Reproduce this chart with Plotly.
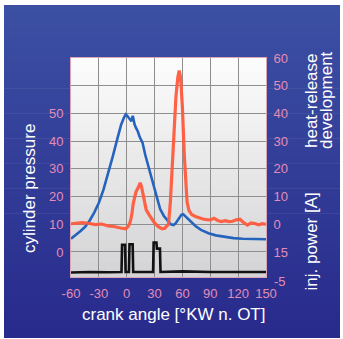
import plotly.graph_objects as go

# ---------------- data ----------------
crank_pressure = [-60, -55, -50, -45, -40, -35, -30, -25, -20, -15,
                  -10, -6, -3, -1, 1, 3, 5, 6.5, 7.5, 8.5,
                  10, 12, 14, 17, 20, 24, 28, 32, 36, 40,
                  44, 47.5, 50.5, 53, 56, 59, 61, 64, 68, 74,
                  80, 88, 96, 105, 115, 125, 135, 150]
cylinder_pressure = [4.8, 6.0, 7.5, 9.0, 11.3, 14.2, 17.8, 22.5, 28.3, 34.5,
                     41, 46, 48.5, 49.7, 49, 48, 47.2, 49.2, 47.5, 46,
                     44.8, 43.5, 41.5, 39.5, 35, 30, 24.5, 19.5, 15.5, 13,
                     11.2, 10, 9.7, 10.5, 12, 13.5, 13.6, 12.6, 11.2, 9.4,
                     8, 6.8, 6, 5.4, 5, 4.8, 4.7, 4.6]

crank_heat = [-60, -54, -48, -40, -34, -27, -20, -14, -9, -4,
              -1, 2, 4, 5.5, 7, 8.5, 10, 12, 13.5, 14.5,
              16, 17.5, 19, 21, 24, 27, 30, 34, 38, 41,
              43, 45, 47, 49, 51, 53, 55, 56.5, 58, 60,
              62, 63.5, 65, 67, 70, 74, 78, 82, 86, 90,
              94, 98, 102, 106, 110, 114, 118, 122, 126, 130,
              134, 138, 142, 146, 150]
heat_release = [0.2, 0.4, 0.6, 0.3, -0.1, 0.1, -0.6, -0.8, -1.3, -1.5,
                -1.6, -0.6, 1.2, 3.5, 7.5, 10, 11.7, 13, 14.2, 15,
                13.5, 10.5, 7.5, 5.2, 3.5, 1.8, 0.5, -0.9, -1.6, -1.4,
                -0.8, 0, 8, 22, 35, 46, 53, 55.5, 53, 42,
                25, 14, 8, 5, 3.5, 2.8, 2.2, 1.9, 1.7, 1.6,
                2.2, 1.4, 1.0, 1.3, 1.0, 1.1, 1.6, 1.8, 0.6, -0.3,
                0.5, 0.3, -0.2, 0.2, 0]

crank_inj = [-60, -40, -20, -5.6, -5.0, -1.8, -1.2, 2.4, 3.0, 6.4, 7.0,
             28.4, 29.0, 32.0, 32.5, 35.8, 36.4, 60, 90, 120, 150]
inj_power = [-17.4, -17.2, -17.3, -17.2, -7.4, -7.4, -17.2, -17.2, -7.2, -7.2, -17.2,
             -17.2, -6.6, -6.6, -8.8, -8.8, -17.2, -17.0, -17.2, -17.1, -17.2]

x_tick_vals = [-60, -30, 0, 30, 60, 90, 120, 150]
x_tick_text = ["-60", "-30", "0", "30", "60", "90", "120", "150"]
left_tick_vals = [0, 10, 20, 30, 40, 50, 60, 70]
left_tick_text = ["0", "10", "20", "30", "40", "50", "", ""]
right_tick_vals = [60, 50, 40, 30, 20, 10, 0, -10, -20.5]
right_tick_text = ["60", "50", "40", "30", "20", "10", "0", "15", "-5"]

x_title = "crank angle [°KW n. OT]"
left_title = "cylinder pressure"
right_title_1 = "heat-release"
right_title_2 = "development"
right_title_3 = "inj. power [A]"

# ---------------- layout geometry ----------------
W, H = 343, 339
L, R, T, B = 71, 77, 58, 62
pw, ph = W - L - R, H - T - B
LEFT_RANGE = [-9.03, 70.04]
RIGHT_RANGE = [LEFT_RANGE[0] - 10, LEFT_RANGE[1] - 10]

def pxx(px):
    return (px - L) / pw

def pxy(py):
    return (H - B - py) / ph

def r2paper(v):
    return (v - RIGHT_RANGE[0]) / (RIGHT_RANGE[1] - RIGHT_RANGE[0])

def lerp(c0, c1, t):
    return "rgb(%d,%d,%d)" % tuple(round(a + (b - a) * t) for a, b in zip(c0, c1))

FONT = "Liberation Sans, Arial, sans-serif"
TICK_COLOR = "#e48cb6"

shapes = []
# outer blue panel gradient
n = 40
top_c, bot_c = (60, 80, 163), (40, 42, 140)
for i in range(n):
    ya = 5 + (338 - 5) * i / n
    yb = 5 + (338 - 5) * (i + 1) / n + 0.6
    shapes.append(dict(type="rect", xref="paper", yref="paper", layer="below",
                       x0=pxx(4), x1=pxx(340), y0=pxy(min(yb, 338)), y1=pxy(ya),
                       fillcolor=lerp(top_c, bot_c, i / (n - 1)), line_width=0))
# plot area gradient
m = 30
for i in range(m):
    y1 = 1 - i / m
    y0 = max(0, 1 - (i + 1) / m - 0.004)
    shapes.append(dict(type="rect", xref="paper", yref="paper", layer="below",
                       x0=0, x1=1, y0=y0, y1=y1,
                       fillcolor=lerp((252, 252, 252), (212, 212, 214), i / (m - 1)),
                       line_width=0))

fig = go.Figure()
fig.add_trace(go.Scatter(x=crank_heat, y=heat_release, yaxis="y2", mode="lines",
                         line=dict(color="rgba(255,90,60,0.95)", width=3.2)))
fig.add_trace(go.Scatter(x=crank_pressure, y=cylinder_pressure, mode="lines",
                         line=dict(color="#2563bd", width=2.6)))
fig.add_trace(go.Scatter(x=crank_inj, y=inj_power, yaxis="y2", mode="lines",
                         line=dict(color="#111111", width=2.6)))

annotations = []
for v, t in zip(right_tick_vals, right_tick_text):
    if v < RIGHT_RANGE[0]:
        annotations.append(dict(text=t, xref="paper", yref="paper", x=1, y=r2paper(v),
                                xanchor="left", yanchor="middle", xshift=6,
                                showarrow=False,
                                font=dict(family=FONT, size=13, color=TICK_COLOR)))

title_font = dict(family=FONT, size=17, color="white")
annotations += [
    dict(text=x_title, xref="paper", yref="paper", x=pxx(173.5), y=pxy(314),
         xanchor="center", yanchor="middle", showarrow=False, font=title_font),
    dict(text=left_title, xref="paper", yref="paper", x=pxx(29), y=pxy(189),
         xanchor="center", yanchor="middle", showarrow=False, font=title_font,
         textangle=-90),
    dict(text=right_title_1, xref="paper", yref="paper", x=pxx(311), y=pxy(101),
         xanchor="center", yanchor="middle", showarrow=False, font=title_font,
         textangle=-90),
    dict(text=right_title_2, xref="paper", yref="paper", x=pxx(326), y=pxy(100),
         xanchor="center", yanchor="middle", showarrow=False, font=title_font,
         textangle=-90),
    dict(text=right_title_3, xref="paper", yref="paper", x=pxx(311), y=pxy(241.5),
         xanchor="center", yanchor="middle", showarrow=False, font=title_font,
         textangle=-90),
]

grid = dict(showgrid=True, gridcolor="#8e8e8e", gridwidth=1.4, zeroline=False,
            showline=True, linecolor="#d8a6b8", linewidth=1, mirror=True,
            ticks="outside", ticklen=4, tickcolor="rgba(0,0,0,0)",
            tickfont=dict(family=FONT, size=13, color=TICK_COLOR))

fig.update_layout(
    width=W, height=H, margin=dict(l=L, r=R, t=T, b=B),
    paper_bgcolor="white", plot_bgcolor="rgba(0,0,0,0)",
    showlegend=False, shapes=shapes, annotations=annotations,
    xaxis=dict(range=[-60, 150], tickvals=x_tick_vals, ticktext=x_tick_text, **grid),
    yaxis=dict(range=LEFT_RANGE, tickvals=left_tick_vals, ticktext=left_tick_text, **grid),
    yaxis2=dict(range=RIGHT_RANGE, overlaying="y", side="right",
                tickvals=right_tick_vals, ticktext=right_tick_text,
                showgrid=False, zeroline=False, ticks="outside", ticklen=4,
                tickcolor="rgba(0,0,0,0)",
                tickfont=dict(family=FONT, size=13, color=TICK_COLOR)),
)

fig.write_html("out.html")
